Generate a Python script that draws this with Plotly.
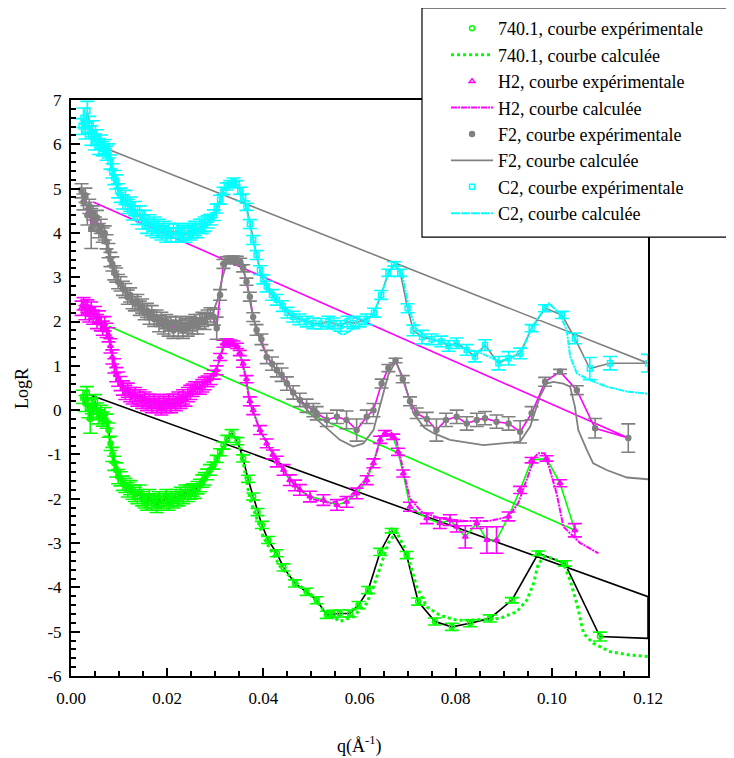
import plotly.graph_objects as go

# ---------------- data ----------------
# 740.1 experimental
q_a = [0.0025,0.0030,0.0033,0.0036,0.0040,0.0043,0.0046,0.0050,0.0054,0.0058,0.0062,0.0066,0.0070,0.0074,0.0078,0.0082,0.0086,0.0090,0.0094,0.0098,
       0.0103,0.0108,0.0113,0.0118,0.0123,0.0128,0.0133,0.0138,0.0143,0.0148,0.0153,0.0158,0.0163,0.0168,0.0173,0.0178,0.0183,0.0188,0.0193,0.0198,
       0.0203,0.0208,0.0213,0.0218,0.0223,0.0228,0.0233,0.0238,0.0243,0.0248,0.0253,0.0258,0.0263,0.0268,0.0273,0.0278,0.0283,0.0289,
       0.0296,0.0303,0.0310,0.0317,0.0325,0.0334,0.0346,0.0358,0.0368,0.0379,0.0388,0.0397,0.0410,0.0428,0.0442,0.0466,0.0490,0.0511,0.0532,0.0545,
       0.0559,0.0580,0.0598,0.0618,0.0643,0.0667,0.0698,0.0722,0.0757,0.0792,0.0830,0.0871,0.0917,0.0972,0.1027,0.1100]
y_a = [0.30,0.15,0.38,0.05,-0.20,0.10,-0.05,0.20,0.00,-0.15,-0.05,-0.20,-0.10,-0.25,-0.45,-0.75,-1.00,-1.20,-1.35,-1.50,
       -1.55,-1.65,-1.70,-1.80,-1.75,-1.85,-1.90,-1.95,-1.85,-2.00,-2.05,-2.10,-1.95,-2.10,-2.05,-2.15,-2.00,-2.10,-2.05,-1.95,
       -2.10,-2.00,-2.05,-1.95,-2.00,-1.90,-1.95,-1.85,-1.90,-1.85,-1.80,-1.85,-1.75,-1.70,-1.60,-1.55,-1.45,-1.35,
       -1.25,-1.10,-0.95,-0.80,-0.65,-0.52,-0.70,-1.09,-1.55,-1.95,-2.30,-2.59,-2.93,-3.23,-3.55,-3.91,-4.10,-4.29,-4.62,-4.60,
       -4.59,-4.59,-4.40,-4.06,-3.20,-2.72,-3.27,-4.32,-4.77,-4.89,-4.81,-4.70,-4.29,-3.23,-3.46,-5.11]
e_a = [0.15,0.18,0.15,0.22,0.32,0.18,0.16,0.15,0.16,0.16,0.16,0.16,0.16,0.16,0.16,0.16,0.16,0.16,0.16,0.16,
       0.16,0.16,0.16,0.16,0.16,0.16,0.16,0.16,0.16,0.16,0.16,0.16,0.16,0.16,0.16,0.16,0.16,0.16,0.16,0.16,
       0.16,0.16,0.16,0.16,0.16,0.16,0.16,0.16,0.16,0.16,0.14,0.14,0.14,0.14,0.14,0.14,0.12,0.12,
       0.08,0.08,0.08,0.08,0.08,0.08,0.08,0.08,0.08,0.08,0.08,0.08,0.08,0.08,0.08,0.08,0.08,0.08,0.08,0.08,
       0.08,0.08,0.08,0.08,0.08,0.05,0.08,0.08,0.08,0.08,0.08,0.08,0.06,0.05,0.06,0.10]
close_a_q = [0.12, 0.12, 0.004]
close_a_y = [-5.15, -4.21, 0.34]
# 740.1 calculated
qc_a = [0.0025,0.004,0.006,0.0075,0.0085,0.010,0.012,0.015,0.018,0.021,0.024,0.027,0.029,0.031,0.0325,0.0335,0.0345,0.0355,0.0372,0.040,
        0.0435,0.0469,0.0497,0.0525,0.0559,0.0587,0.0615,0.0629,0.0643,0.066,0.0677,0.0698,0.0719,0.074,0.0767,0.0802,0.083,0.0892,0.0927,0.0948,
        0.0962,0.0972,0.0986,0.1003,0.1024,0.1038,0.1052,0.1066,0.1086,0.1121,0.1163,0.12]
yc_a = [0.25,0.10,-0.05,-0.30,-0.90,-1.45,-1.75,-1.95,-2.05,-2.05,-1.95,-1.70,-1.40,-1.00,-0.70,-0.55,-0.65,-1.00,-2.00,-2.86,
        -3.53,-3.91,-4.13,-4.51,-4.77,-4.66,-4.36,-3.99,-3.53,-3.00,-2.74,-3.21,-3.99,-4.44,-4.63,-4.74,-4.74,-4.70,-4.55,-4.29,
        -3.91,-3.46,-3.31,-3.35,-3.46,-3.84,-4.36,-5.04,-5.26,-5.45,-5.53,-5.56]

# H2 experimental
q_b = [0.0022,0.0026,0.0030,0.0034,0.0038,0.0042,0.0046,0.0050,0.0054,0.0058,0.0062,0.0066,0.0070,0.0074,0.0078,0.0082,0.0086,0.0090,0.0094,0.0098,
       0.0103,0.0108,0.0113,0.0118,0.0123,0.0128,0.0133,0.0138,0.0143,0.0148,0.0153,0.0158,0.0163,0.0168,0.0173,0.0178,0.0183,0.0188,0.0193,0.0198,
       0.0203,0.0208,0.0213,0.0218,0.0223,0.0228,0.0233,0.0238,0.0243,0.0248,0.0253,0.0258,0.0263,0.0268,0.0273,0.0278,0.0284,0.0290,0.0297,0.0303,
       0.0310,0.0317,0.0324,0.0331,0.0338,0.0345,0.0351,0.0358,0.0365,0.0372,0.0379,0.0393,0.0407,0.0420,0.0428,0.0442,0.0455,0.0466,0.0476,0.0497,
       0.0525,0.0553,0.0573,0.0594,0.0615,0.0629,0.0643,0.0653,0.0670,0.0680,0.0691,0.0705,0.0740,0.0767,0.0788,0.0802,0.0820,0.0844,0.0865,0.0885,
       0.0910,0.0934,0.0958,0.0989,0.1017,0.1048]
y_b = [2.30,2.40,2.20,2.35,2.15,2.30,2.10,2.20,2.00,2.10,1.95,1.85,1.95,1.80,1.70,1.45,1.20,1.00,0.80,0.70,
       0.60,0.50,0.40,0.45,0.35,0.30,0.35,0.25,0.30,0.20,0.25,0.15,0.20,0.10,0.20,0.10,0.15,0.05,0.15,0.10,
       0.20,0.10,0.20,0.15,0.25,0.20,0.30,0.25,0.35,0.40,0.45,0.50,0.50,0.50,0.55,0.60,0.65,0.70,0.80,0.90,
       1.20,1.50,1.55,1.52,1.50,1.45,1.29,1.05,0.70,0.20,0.00,-0.45,-0.75,-1.00,-1.16,-1.35,-1.58,-1.70,-1.80,-1.95,
       -2.03,-2.14,-2.07,-1.88,-1.58,-1.20,-0.67,-0.52,-0.60,-0.94,-1.43,-2.18,-2.44,-2.55,-2.48,-2.63,-2.86,-2.55,-2.93,-2.93,
       -2.40,-1.80,-1.13,-1.09,-1.65,-2.71]
e_b = [0.16,0.14,0.16,0.14,0.16,0.14,0.16,0.14,0.16,0.14,0.16,0.16,0.16,0.16,0.16,0.16,0.16,0.16,0.16,0.16,
       0.16,0.16,0.16,0.16,0.16,0.16,0.16,0.16,0.16,0.16,0.16,0.16,0.16,0.16,0.16,0.16,0.16,0.16,0.16,0.16,
       0.16,0.16,0.16,0.16,0.16,0.16,0.16,0.16,0.16,0.16,0.14,0.14,0.14,0.14,0.14,0.14,0.12,0.12,0.10,0.10,
       0.08,0.08,0.06,0.06,0.06,0.06,0.06,0.08,0.08,0.10,0.10,0.10,0.10,0.10,0.12,0.12,0.12,0.12,0.12,0.12,
       0.12,0.12,0.12,0.12,0.10,0.10,0.08,0.06,0.06,0.08,0.08,0.10,0.12,0.12,0.12,0.12,0.25,0.12,0.30,0.30,
       0.10,0.08,0.06,0.06,0.08,0.15]
close_b_q = [0.0078]
close_b_y = [1.90]
# H2 calculated
qc_b = [0.0022,0.004,0.006,0.0075,0.0085,0.010,0.012,0.015,0.018,0.021,0.024,0.027,0.029,0.0305,0.0315,0.0325,0.0338,0.035,0.0362,0.0372,
        0.0393,0.0428,0.0466,0.050,0.054,0.058,0.061,0.063,0.0645,0.066,0.0675,0.069,0.0705,0.073,0.077,0.082,0.087,0.0892,0.091,0.093,
        0.095,0.0965,0.0972,0.0985,0.0996,0.101,0.1024,0.1059,0.1097]
yc_b = [2.30,2.25,2.00,1.80,1.30,0.70,0.40,0.25,0.15,0.15,0.30,0.55,0.75,1.00,1.35,1.55,1.50,1.30,0.80,0.15,
        -0.45,-1.15,-1.70,-2.00,-2.10,-1.95,-1.60,-1.15,-0.60,-0.45,-0.60,-1.30,-2.00,-2.30,-2.45,-2.50,-2.50,-2.45,-2.40,-2.10,
        -1.50,-1.05,-0.97,-0.97,-1.35,-1.88,-2.63,-3.00,-3.23]

# F2 experimental
q_c = [0.0022,0.0026,0.0030,0.0034,0.0038,0.0042,0.0046,0.0050,0.0054,0.0058,0.0062,0.0066,0.0070,0.0074,0.0078,0.0082,0.0086,0.0090,0.0094,0.0098,
       0.0103,0.0108,0.0113,0.0118,0.0123,0.0128,0.0133,0.0138,0.0143,0.0148,0.0153,0.0158,0.0163,0.0168,0.0173,0.0178,0.0183,0.0188,0.0193,0.0198,
       0.0203,0.0208,0.0213,0.0218,0.0223,0.0228,0.0233,0.0238,0.0243,0.0248,0.0253,0.0258,0.0263,0.0268,0.0273,0.0278,0.0284,0.0290,0.0297,0.0303,
       0.0310,0.0317,0.0324,0.0331,0.0338,0.0345,0.0352,0.0358,0.0365,0.0372,0.0379,0.0386,0.0396,0.0407,0.0418,0.0428,0.0438,0.0449,0.0462,0.0476,
       0.0490,0.0504,0.0511,0.0532,0.0553,0.0573,0.0594,0.0615,0.0629,0.0646,0.0660,0.0675,0.0690,0.0705,0.0719,0.0740,0.0760,0.0780,0.0802,0.0823,
       0.0844,0.0861,0.0885,0.0910,0.0934,0.0958,0.0986,0.1017,0.1052,0.1090,0.1159]
y_c = [4.95,4.70,4.85,4.40,4.60,4.10,4.45,4.20,4.35,4.05,4.15,3.95,4.00,3.80,3.60,3.40,3.30,3.10,3.05,2.90,
       2.85,2.75,2.70,2.55,2.60,2.45,2.40,2.45,2.30,2.35,2.20,2.25,2.10,2.20,2.05,2.10,1.95,2.05,1.90,2.00,
       1.85,1.95,1.80,1.95,1.85,1.95,1.80,1.90,1.85,1.95,1.90,2.00,1.90,2.00,2.05,2.00,2.10,2.15,2.10,1.85,
       2.60,3.30,3.38,3.40,3.40,3.39,3.35,3.20,2.90,2.56,2.10,1.81,1.60,1.20,1.05,0.90,0.80,0.60,0.40,0.23,
       0.10,0.00,-0.07,-0.22,-0.15,-0.22,-0.45,-0.15,0.00,0.60,0.95,1.12,0.70,0.20,-0.07,-0.20,-0.45,-0.22,-0.15,-0.30,
       -0.22,-0.18,-0.26,-0.30,-0.49,-0.07,0.64,0.87,0.45,-0.41,-0.63]
e_c = [0.16,0.18,0.16,0.22,0.16,0.45,0.16,0.16,0.16,0.16,0.16,0.16,0.16,0.16,0.16,0.16,0.16,0.16,0.16,0.16,
       0.16,0.16,0.16,0.16,0.16,0.16,0.16,0.16,0.16,0.16,0.16,0.16,0.16,0.16,0.16,0.16,0.18,0.16,0.18,0.16,
       0.18,0.16,0.18,0.16,0.18,0.16,0.18,0.16,0.18,0.16,0.18,0.16,0.18,0.16,0.16,0.18,0.16,0.16,0.18,0.25,
       0.12,0.10,0.08,0.08,0.08,0.08,0.08,0.08,0.08,0.10,0.10,0.12,0.12,0.15,0.15,0.15,0.15,0.15,0.15,0.15,
       0.15,0.15,0.15,0.15,0.15,0.20,0.25,0.15,0.15,0.10,0.08,0.05,0.08,0.10,0.12,0.15,0.25,0.15,0.15,0.15,
       0.15,0.15,0.15,0.15,0.25,0.15,0.10,0.05,0.10,0.22,0.32]
close_c_q = [0.0046]
close_c_y = [4.70]
# F2 calculated
qc_c = [0.0022,0.003,0.004,0.005,0.006,0.007,0.0078,0.009,0.0105,0.012,0.014,0.016,0.018,0.020,0.022,0.024,0.026,0.028,0.0295,0.0305,
        0.0315,0.0325,0.034,0.0355,0.0365,0.0375,0.0386,0.040,0.042,0.0449,0.0476,0.050,0.053,0.0559,0.0587,0.0608,0.0629,0.0646,0.066,0.0675,
        0.069,0.0712,0.0735,0.0754,0.0788,0.0858,0.0934,0.0955,0.0975,0.0989,0.1003,0.1024,0.1038,0.1048,0.1055,0.1073,0.1086,0.1114,0.1156,0.12]
yc_c = [4.90,4.70,4.40,4.20,4.10,3.95,3.60,3.10,2.80,2.55,2.35,2.20,2.05,1.95,1.90,1.90,1.95,2.05,2.20,2.50,
        3.00,3.35,3.40,3.30,2.90,2.30,1.80,1.40,1.00,0.60,0.20,-0.10,-0.40,-0.67,-0.82,-0.75,-0.45,0.23,0.80,1.10,
        0.75,-0.07,-0.40,-0.52,-0.67,-0.79,-0.71,-0.37,0.30,0.60,0.64,0.60,0.53,0.08,-0.45,-0.90,-1.20,-1.35,-1.52,-1.56]

# C2 experimental
q_d = [0.0022,0.0026,0.0030,0.0034,0.0038,0.0042,0.0046,0.0050,0.0054,0.0058,0.0062,0.0066,0.0070,0.0074,0.0078,0.0082,0.0086,0.0090,0.0094,0.0098,
       0.0103,0.0108,0.0113,0.0118,0.0123,0.0128,0.0133,0.0138,0.0143,0.0148,0.0153,0.0158,0.0163,0.0168,0.0173,0.0178,0.0183,0.0188,0.0193,0.0198,
       0.0203,0.0208,0.0213,0.0218,0.0223,0.0228,0.0233,0.0238,0.0243,0.0248,0.0253,0.0258,0.0263,0.0268,0.0273,0.0278,0.0284,0.0290,0.0297,0.0303,
       0.0310,0.0317,0.0324,0.0331,0.0338,0.0345,0.0352,0.0358,0.0365,0.0372,0.0379,0.0386,0.0393,0.0400,0.0407,0.0418,0.0428,0.0440,0.0450,0.0462,
       0.0475,0.0490,0.0504,0.0520,0.0535,0.0546,0.0560,0.0575,0.0587,0.0600,0.0615,0.0630,0.0645,0.0660,0.0672,0.0685,0.0700,0.0712,0.0730,0.0750,
       0.0770,0.0785,0.0802,0.0823,0.0840,0.0861,0.0889,0.0910,0.0934,0.0958,0.0986,0.1021,0.1048,0.1079,0.1121,0.1200]
y_d = [6.40,6.60,6.30,6.75,6.45,6.20,6.35,6.05,6.15,5.95,6.05,5.90,5.95,5.80,5.85,5.60,5.40,5.25,5.15,4.95,
       4.85,4.70,4.80,4.60,4.65,4.45,4.55,4.35,4.45,4.25,4.35,4.15,4.25,4.10,4.20,4.05,4.15,4.00,4.10,3.95,
       4.05,3.95,4.05,3.95,4.05,3.95,4.00,3.95,4.05,4.00,4.05,4.10,4.05,4.15,4.15,4.20,4.25,4.30,4.40,4.55,
       4.75,4.95,5.05,5.10,5.16,5.10,4.95,4.80,4.59,4.20,3.84,3.50,3.16,2.95,2.79,2.60,2.49,2.35,2.20,2.11,
       2.05,2.00,1.96,1.95,2.00,1.96,1.90,2.00,1.96,2.00,2.05,2.20,2.60,3.10,3.30,3.10,2.30,1.80,1.65,1.60,
       1.55,1.45,1.51,1.36,1.21,1.47,1.06,1.17,1.28,1.85,2.30,2.15,1.62,0.94,1.06,1.06]
e_d = [0.18,0.22,0.18,0.22,0.18,0.22,0.18,0.18,0.18,0.18,0.16,0.16,0.16,0.16,0.16,0.16,0.16,0.16,0.16,0.16,
       0.16,0.16,0.16,0.16,0.16,0.16,0.16,0.16,0.16,0.16,0.16,0.16,0.16,0.16,0.16,0.16,0.16,0.16,0.16,0.16,
       0.16,0.16,0.16,0.16,0.16,0.16,0.16,0.16,0.16,0.16,0.16,0.16,0.16,0.16,0.16,0.16,0.14,0.12,0.12,0.10,
       0.10,0.08,0.08,0.08,0.08,0.08,0.08,0.08,0.08,0.10,0.10,0.10,0.10,0.10,0.12,0.12,0.12,0.12,0.12,0.12,
       0.12,0.12,0.12,0.12,0.12,0.12,0.12,0.12,0.12,0.12,0.12,0.10,0.10,0.08,0.05,0.08,0.10,0.12,0.15,0.12,
       0.12,0.12,0.12,0.12,0.12,0.12,0.15,0.15,0.12,0.08,0.08,0.08,0.12,0.25,0.15,0.20]
close_d_q = [0.0081]
close_d_y = [5.87]
# C2 calculated
qc_d = [0.0022,0.003,0.004,0.005,0.006,0.007,0.008,0.009,0.0105,0.012,0.014,0.016,0.018,0.020,0.022,0.024,0.026,0.028,0.0295,0.031,
        0.0325,0.0338,0.035,0.0362,0.0375,0.039,0.041,0.044,0.047,0.050,0.053,0.0566,0.059,0.0615,0.063,0.0645,0.066,0.0675,0.069,0.0705,
        0.072,0.075,0.080,0.085,0.089,0.092,0.094,0.096,0.0993,0.1015,0.1031,0.1038,0.1052,0.1079,0.1114,0.1156,0.12]
yc_d = [6.40,6.50,6.30,6.10,6.00,5.90,5.75,5.30,4.85,4.60,4.40,4.20,4.10,4.00,3.95,3.95,4.05,4.20,4.35,4.70,
        5.05,5.15,5.00,4.70,4.00,3.30,2.80,2.35,2.10,1.95,1.90,1.70,1.85,2.00,2.20,2.60,3.10,3.30,3.00,2.20,
        1.80,1.60,1.45,1.30,1.10,1.20,1.40,1.90,2.41,2.20,1.81,1.21,0.83,0.68,0.53,0.42,0.37]

# axis ticks
x_ticks = [0.00, 0.02, 0.04, 0.06, 0.08, 0.10, 0.12]
x_tick_text = ["0.00", "0.02", "0.04", "0.06", "0.08", "0.10", "0.12"]
y_ticks = [-6, -5, -4, -3, -2, -1, 0, 1, 2, 3, 4, 5, 6, 7]
y_tick_text = ["-6", "-5", "-4", "-3", "-2", "-1", "0", "1", "2", "3", "4", "5", "6", "7"]

names = ["740.1, courbe expérimentale", "740.1, courbe calculée",
         "H2, courbe expérimentale", "H2, courbe calculée",
         "F2, courbe expérimentale", "F2, courbe calculée",
         "C2, courbe expérimentale", "C2, courbe calculée"]

GREEN, MAG, GRAY, CYAN, BLACK = "#00FF00", "#FF00FF", "#808080", "#00FFFF", "#000000"
FONT = "Liberation Serif, Times New Roman, serif"

series = [
    (q_a, y_a, e_a, close_a_q, close_a_y, GREEN, BLACK, "circle-open", qc_a, yc_a, GREEN, "dot", 3),
    (q_b, y_b, e_b, close_b_q, close_b_y, MAG, GREEN, "triangle-up-open", qc_b, yc_b, MAG, "6px,1px,2px,1px", 2),
    (q_c, y_c, e_c, close_c_q, close_c_y, GRAY, MAG, "circle", qc_c, yc_c, GRAY, "solid", 1.8),
    (q_d, y_d, e_d, close_d_q, close_d_y, CYAN, GRAY, "square-open", qc_d, yc_d, CYAN, "6px,1px,2px,1px", 2),
]

fig = go.Figure()
for i, (q, y, e, cq, cy, col, lcol, sym, qc, yc, ccol, cdash, cw) in enumerate(series):
    fig.add_trace(go.Scatter(x=q + cq, y=y + cy, mode="lines",
                             line=dict(color=lcol, width=1.6), showlegend=False, hoverinfo="skip"))
    fig.add_trace(go.Scatter(x=q, y=y, mode="markers",
                             marker=dict(symbol=sym, size=5, color=col, line=dict(color=col, width=1.5)),
                             error_y=dict(type="data", array=e, visible=True, color=col, thickness=1.6, width=7),
                             name=names[2 * i], showlegend=False))
    fig.add_trace(go.Scatter(x=qc, y=yc, mode="lines",
                             line=dict(color=ccol, width=cw, dash=cdash),
                             name=names[2 * i + 1], legendrank=2 * i + 2))
    fig.add_trace(go.Scatter(x=[None], y=[None], mode="markers",
                             marker=dict(symbol=sym, size=5, color=col, line=dict(color=col, width=1.5)),
                             name=names[2 * i], legendrank=2 * i + 1))

# page body has an 8 px margin: figure is drawn 8 px right/down
fig.update_layout(
    width=726, height=750,
    margin=dict(l=63, r=86, t=92, b=82, autoexpand=False),
    plot_bgcolor="white", paper_bgcolor="white",
    font=dict(family=FONT, size=17, color="black"),
    showlegend=True,
    legend=dict(x=0.650, y=1.156, xanchor="left", yanchor="top",
                borderwidth=0, bgcolor="rgba(0,0,0,0)", itemwidth=42,
                font=dict(family=FONT, size=18), traceorder="normal"),
    shapes=[dict(type="rect", xref="paper", yref="paper", x0=0.6083, x1=1.1473, y0=0.762, y1=1.1597,
                 fillcolor="white", line=dict(color="black", width=1.2), layer="above")],
    xaxis=dict(range=[0, 0.12], showgrid=False, zeroline=False,
               showline=True, linecolor="black", linewidth=2, mirror=True,
               ticks="inside", ticklen=8, tickwidth=1.5, tickcolor="black",
               tickmode="array", tickvals=x_ticks, ticktext=x_tick_text,
               minor=dict(dtick=0.005, tick0=0, ticks="inside", ticklen=5, tickwidth=1.5, tickcolor="black", showgrid=False),
               tickfont=dict(family=FONT, size=17), ticklabelstandoff=6),
    yaxis=dict(range=[-6, 7], showgrid=False, zeroline=False,
               showline=True, linecolor="black", linewidth=2, mirror=True,
               ticks="inside", ticklen=9, tickwidth=1.5, tickcolor="black",
               tickmode="array", tickvals=y_ticks, ticktext=y_tick_text,
               minor=dict(dtick=0.2, tick0=0, ticks="inside", ticklen=5, tickwidth=1.5, tickcolor="black", showgrid=False),
               tickfont=dict(family=FONT, size=17), ticklabelstandoff=4),
    annotations=[
        dict(text="LogR", x=-0.085, y=0.5, xref="paper", yref="paper", textangle=-90,
             showarrow=False, font=dict(family=FONT, size=18), xanchor="center", yanchor="middle"),
        dict(text="q(Å<sup>-1</sup>)", x=0.5, y=-0.12, xref="paper", yref="paper",
             showarrow=False, font=dict(family=FONT, size=18), xanchor="center", yanchor="middle"),
    ],
)

fig.write_html("out.html")
